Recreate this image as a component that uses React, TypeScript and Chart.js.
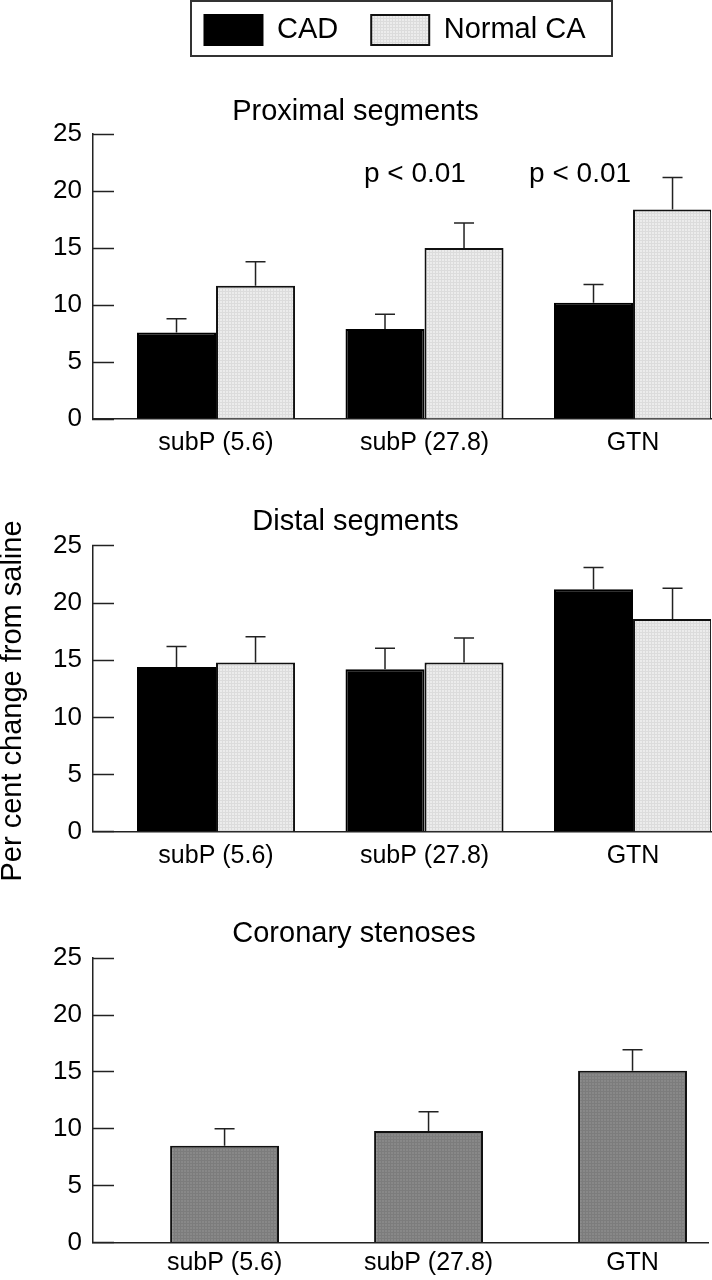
import React, { useEffect, useRef } from 'react';
import { Chart, registerables } from 'chart.js';

Chart.register(...registerables);

const FONT = "'Liberation Sans', Arial, Helvetica, sans-serif";
Chart.defaults.font.family = FONT;
Chart.defaults.color = '#000';

// ---------- data ----------
const CATEGORIES = ['subP (5.6)', 'subP (27.8)', 'GTN'];
const SERIES = ['CAD', 'Normal CA'];
const Y_TICKS = [0, 5, 10, 15, 20, 25];

const PROX_TITLE = 'Proximal segments';
const PROX_CAD = [7.6, 7.9, 10.2];
const PROX_CAD_ERR = [1.2, 1.3, 1.6];
const PROX_NORMAL = [11.7, 15.0, 18.4];
const PROX_NORMAL_ERR = [2.1, 2.2, 2.8];
const PROX_PVALUES = ['p < 0.01', 'p < 0.01'];

const DIST_TITLE = 'Distal segments';
const DIST_CAD = [14.4, 14.2, 21.2];
const DIST_CAD_ERR = [1.8, 1.85, 1.9];
const DIST_NORMAL = [14.8, 14.8, 18.6];
const DIST_NORMAL_ERR = [2.25, 2.15, 2.7];

const STEN_TITLE = 'Coronary stenoses';
const STEN_VALUES = [8.5, 9.8, 15.1];
const STEN_ERR = [1.5, 1.7, 1.85];

const Y_TITLE = 'Per cent change from saline';

// annotation placement (data coordinates of panel 1)
const PVALUE_POS = [
  { x: 0.954, y: 21.45 },
  { x: 1.746, y: 21.45 },
];

// ---------- helpers ----------
function makePattern(base: string, line: string) {
  const c = document.createElement('canvas');
  c.width = 3;
  c.height = 3;
  const g = c.getContext('2d')!;
  g.fillStyle = base;
  g.fillRect(0, 0, 3, 3);
  g.fillStyle = line;
  g.fillRect(0, 0, 3, 1);
  g.fillRect(0, 0, 1, 3);
  return g.createPattern(c, 'repeat')!;
}

const toPoints = (vals: number[]) => vals.map((v, i) => ({ x: i, y: v }));

const errorBarPlugin = {
  id: 'errorBars',
  afterDatasetsDraw(chart: any, _args: any, opts: any) {
    const errs = opts.errors || [];
    const { ctx } = chart;
    const y = chart.scales.y;
    ctx.save();
    ctx.strokeStyle = '#222';
    ctx.lineWidth = 1.5;
    chart.data.datasets.forEach((ds: any, di: number) => {
      const meta = chart.getDatasetMeta(di);
      const e = errs[di];
      if (!e) return;
      meta.data.forEach((bar: any, i: number) => {
        const v = ds.data[i].y;
        const base = y.getPixelForValue(v);
        const top = y.getPixelForValue(v + e[i]);
        ctx.beginPath();
        ctx.moveTo(bar.x, base);
        ctx.lineTo(bar.x, top);
        ctx.moveTo(bar.x - 10, top);
        ctx.lineTo(bar.x + 10, top);
        ctx.stroke();
      });
    });
    ctx.restore();
  },
};

const pLabelPlugin = {
  id: 'pLabels',
  afterDraw(chart: any, _args: any, opts: any) {
    const items = opts.items || [];
    if (!items.length) return;
    const { ctx } = chart;
    ctx.save();
    ctx.font = `28px ${FONT}`;
    ctx.fillStyle = '#000';
    ctx.textAlign = 'center';
    ctx.textBaseline = 'middle';
    items.forEach((it: any) => {
      ctx.fillText(it.text, chart.scales.x.getPixelForValue(it.x), chart.scales.y.getPixelForValue(it.y));
    });
    ctx.restore();
  },
};

const sideTitlePlugin = {
  id: 'sideTitle',
  afterDraw(chart: any, _args: any, opts: any) {
    if (!opts.text) return;
    const { ctx } = chart;
    ctx.save();
    ctx.translate(opts.x, opts.y);
    ctx.rotate(-Math.PI / 2);
    ctx.font = `29px ${FONT}`;
    ctx.fillStyle = '#000';
    ctx.textAlign = 'center';
    ctx.textBaseline = 'middle';
    ctx.fillText(opts.text, 0, 0);
    ctx.restore();
  },
};

const legendBoxPlugin = {
  id: 'legendBox',
  afterDraw(chart: any) {
    const { ctx } = chart;
    ctx.save();
    ctx.strokeStyle = '#333';
    ctx.lineWidth = 2;
    ctx.strokeRect(21, 19, 421, 55);
    ctx.restore();
  },
};

type PanelSpec = {
  title: string;
  datasets: any[];
  errors: number[][];
  padTop: number;
  titleGap: number;
  padRight: number;
  xHeight: number;
  xMin: number;
  xMax: number;
  labelPad: number;
  pLabels?: any[];
  side?: { text: string; x: number; y: number };
};

function buildPanel(p: PanelSpec) {
  return {
    type: 'bar',
    data: { datasets: p.datasets },
    options: {
      animation: false,
      responsive: false,
      maintainAspectRatio: false,
      layout: { padding: { top: p.padTop, right: p.padRight, left: 0, bottom: 0 } },
      plugins: {
        legend: { display: false },
        tooltip: { enabled: false },
        title: {
          display: true,
          text: p.title,
          color: '#000',
          font: { size: 29, weight: 'normal' },
          padding: { top: 0, bottom: p.titleGap },
        },
        errorBars: { errors: p.errors },
        pLabels: { items: p.pLabels || [] },
        sideTitle: p.side || {},
      },
      scales: {
        x: {
          type: 'linear',
          offset: false,
          min: p.xMin,
          max: p.xMax,
          afterBuildTicks: (s: any) => {
            s.ticks = CATEGORIES.map((_, i) => ({ value: i }));
          },
          afterFit: (s: any) => {
            s.height = p.xHeight;
          },
          ticks: {
            autoSkip: false,
            maxRotation: 0,
            minRotation: 0,
            padding: p.labelPad,
            color: '#000',
            font: { size: 25 },
            callback: (v: any) => CATEGORIES[v] ?? '',
          },
          grid: { display: false, drawTicks: false, tickLength: 0 },
          border: { display: true, color: '#222', width: 1.5 },
        },
        y: {
          min: Y_TICKS[0],
          max: Y_TICKS[Y_TICKS.length - 1],
          afterBuildTicks: (s: any) => {
            s.ticks = Y_TICKS.map((v) => ({ value: v }));
          },
          afterFit: (s: any) => {
            s.width = 93;
          },
          ticks: { padding: 32, color: '#000', font: { size: 26 } },
          grid: {
            drawOnChartArea: false,
            drawTicks: true,
            tickLength: -21,
            tickWidth: 1.5,
            tickColor: '#222',
          },
          border: { display: true, color: '#222', width: 1.5 },
        },
      },
    },
    plugins: [errorBarPlugin, pLabelPlugin, sideTitlePlugin],
  };
}

function pairDatasets(cad: number[], normal: number[], pct: number) {
  const normalFill = makePattern('#ececec', '#dcdcdc');
  return [
    {
      label: SERIES[0],
      data: toPoints(cad),
      backgroundColor: '#000',
      borderColor: '#000',
      borderWidth: 2,
      borderSkipped: 'bottom',
      categoryPercentage: pct,
      barPercentage: 1,
    },
    {
      label: SERIES[1],
      data: toPoints(normal),
      backgroundColor: normalFill,
      borderColor: '#111',
      borderWidth: 2,
      borderSkipped: 'bottom',
      categoryPercentage: pct,
      barPercentage: 1,
    },
  ];
}

function buildLegend() {
  const normalFill = makePattern('#ececec', '#dcdcdc');
  return {
    type: 'bar',
    data: {
      labels: [],
      datasets: [
        { label: SERIES[0], data: [], backgroundColor: '#000', borderColor: '#000', borderWidth: 2 },
        { label: SERIES[1], data: [], backgroundColor: normalFill, borderColor: '#111', borderWidth: 2 },
      ],
    },
    options: {
      animation: false,
      responsive: false,
      maintainAspectRatio: false,
      layout: { padding: 0 },
      scales: { x: { display: false }, y: { display: false } },
      plugins: {
        tooltip: { enabled: false },
        title: { display: false },
        legend: {
          display: true,
          position: 'top',
          align: 'center',
          labels: {
            boxWidth: 58,
            boxHeight: 30,
            padding: 33,
            color: '#000',
            font: { size: 29 },
          },
        },
      },
    },
    plugins: [legendBoxPlugin],
  };
}

function ChartCanvas(props: { left: number; top: number; width: number; height: number; build: () => any }) {
  const ref = useRef<HTMLCanvasElement>(null);
  useEffect(() => {
    const chart = new Chart(ref.current as HTMLCanvasElement, props.build());
    return () => chart.destroy();
  }, []);
  return (
    <canvas
      ref={ref}
      width={props.width}
      height={props.height}
      style={{
        position: 'absolute',
        left: props.left,
        top: props.top,
        width: props.width,
        height: props.height,
        display: 'block',
      }}
    />
  );
}

export default function App() {
  return (
    <div
      style={{
        position: 'absolute',
        left: 0,
        top: 0,
        width: 712,
        height: 1280,
        overflow: 'hidden',
        background: '#fff',
      }}
    >
      <ChartCanvas left={170} top={-18} width={450} height={230} build={buildLegend} />
      <ChartCanvas
        left={0}
        top={60}
        width={712}
        height={409}
        build={() =>
          buildPanel({
            title: PROX_TITLE,
            datasets: pairDatasets(PROX_CAD, PROX_NORMAL, 0.758),
            errors: [PROX_CAD_ERR, PROX_NORMAL_ERR],
            padTop: 34.2,
            titleGap: 5.2,
            padRight: 1,
            xHeight: 50,
            xMin: -0.59,
            xMax: 2.374,
            labelPad: 9,
            pLabels: PROX_PVALUES.map((t, i) => ({ text: t, x: PVALUE_POS[i].x, y: PVALUE_POS[i].y })),
          })
        }
      />
      <ChartCanvas
        left={0}
        top={470}
        width={712}
        height={420}
        build={() =>
          buildPanel({
            title: DIST_TITLE,
            datasets: pairDatasets(DIST_CAD, DIST_NORMAL, 0.758),
            errors: [DIST_CAD_ERR, DIST_NORMAL_ERR],
            padTop: 34.2,
            titleGap: 6.9,
            padRight: 1,
            xHeight: 58.3,
            xMin: -0.59,
            xMax: 2.374,
            labelPad: 9,
            side: { text: Y_TITLE, x: 12.5, y: 231 },
          })
        }
      />
      <ChartCanvas
        left={0}
        top={890}
        width={712}
        height={400}
        build={() =>
          buildPanel({
            title: STEN_TITLE,
            datasets: [
              {
                label: 'Coronary stenoses',
                data: toPoints(STEN_VALUES),
                backgroundColor: makePattern('#888888', '#7c7c7c'),
                borderColor: '#111',
                borderWidth: 2,
                borderSkipped: 'bottom',
                categoryPercentage: 0.534,
                barPercentage: 1,
              },
            ],
            errors: [STEN_ERR],
            padTop: 26.7,
            titleGap: 6.7,
            padRight: 4,
            xHeight: 47,
            xMin: -0.645,
            xMax: 2.37,
            labelPad: 6,
          })
        }
      />
    </div>
  );
}
